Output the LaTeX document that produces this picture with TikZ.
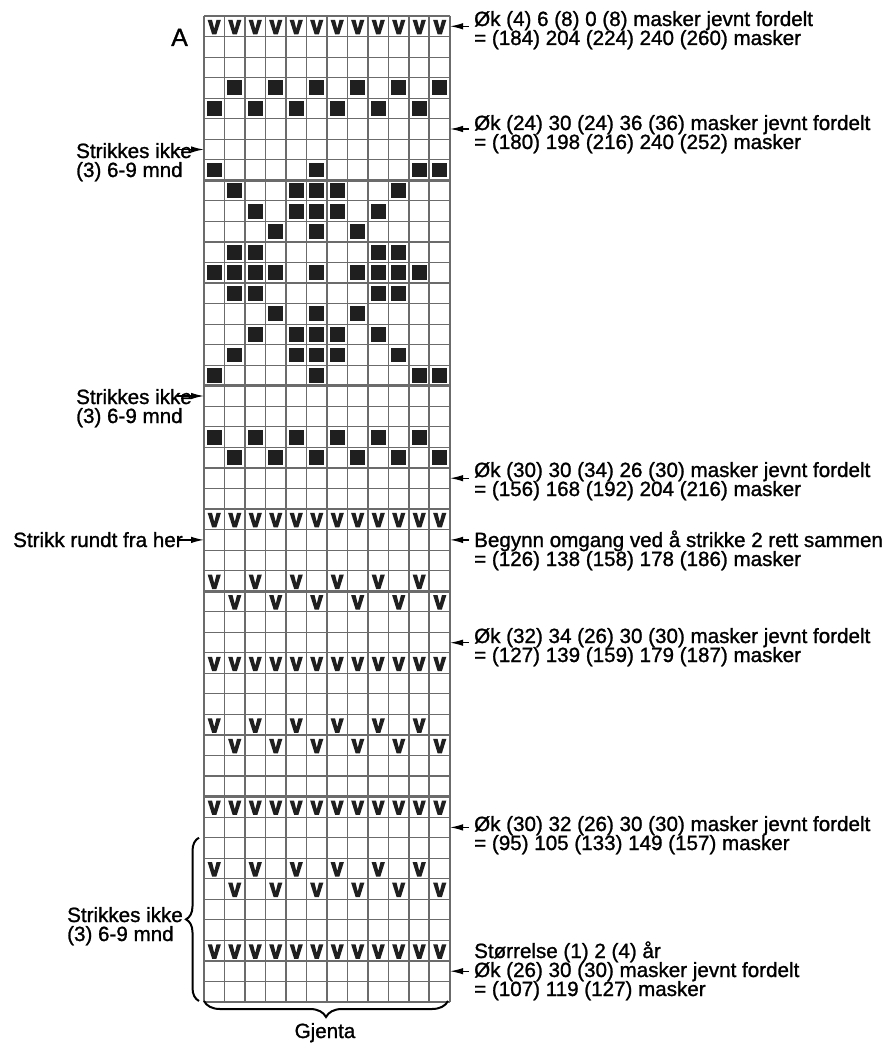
\documentclass[tikz,border=0pt]{standalone}
\usepackage{fontspec}
\setmainfont[FakeBold=1.2]{Liberation Sans}
\usetikzlibrary{arrows.meta,decorations.pathreplacing}
\newcommand\ksq[2]{%
  \pgfmathsetmacro\kcx{204+(#2-0.5)*20.5}%
  \pgfmathsetmacro\kcy{16+(#1-0.5)*20.542}%
  \fill[sqfill] (\kcx-7.4,\kcy-7.4) rectangle (\kcx+7.4,\kcy+7.4);}
\newcommand\kvmark[2]{%
  \pgfmathsetmacro\kcx{204+(#2-0.5)*20.5}%
  \pgfmathsetmacro\kcy{16+(#1-0.5)*20.542+0.9}%
  \fill[vfill] (\kcx-6.6,\kcy-7.2) -- (\kcx-2.2,\kcy-7.2) -- (\kcx,\kcy+1.6) -- (\kcx+2.2,\kcy-7.2) -- (\kcx+6.6,\kcy-7.2) -- (\kcx+2.1,\kcy+7.2) -- (\kcx-2.1,\kcy+7.2) -- cycle;}
\begin{document}
\begin{tikzpicture}[x=1pt,y=-1pt,
  gridline/.style={draw=black!58,line width=1.15pt},
  thickline/.style={draw=black!58,line width=2.8pt},
  midline/.style={draw=black!58,line width=2pt},
  sqfill/.style={fill=black!88},
  vfill/.style={fill=black!88},
  lab/.style={font=\fontsize{20.6}{17}\selectfont,inner sep=0pt,anchor=base west},
  arr/.style={draw=black,line width=1.3pt,-{Latex[length=13pt,width=6.5pt]}},
  brc/.style={draw=black,line width=2pt,decorate,decoration={brace,amplitude=#1}}
]
\fill[white] (0,0) rectangle (892,1043);
\useasboundingbox (0,0) rectangle (892,1043);
% grid
\foreach \i in {0,...,12} \draw[gridline] ({204+\i*20.5},16) -- ({204+\i*20.5},1002);
\foreach \j in {0,...,48} \draw[gridline] (204,{16+\j*20.542}) -- (450,{16+\j*20.542});
\foreach \j in {8,18,28,38} \draw[thickline] (204,{16+\j*20.542}) -- (450,{16+\j*20.542});
\draw[thickline] (245,16) -- (245,1002);
\draw[midline] (429,16) -- (429,1002);
% squares
\foreach \r/\cs in {4/{2,4,6,8,10,12},5/{1,3,5,7,9,11},8/{1,6,11,12},9/{2,5,6,7,10},10/{3,5,6,7,9},11/{4,6,8},12/{2,3,9,10},13/{1,2,3,4,6,8,9,10,11},14/{2,3,9,10},15/{4,6,8},16/{3,5,6,7,9},17/{2,5,6,7,10},18/{1,6,11,12},21/{1,3,5,7,9,11},22/{2,4,6,8,10,12}}
  {\foreach \c in \cs {\ksq{\r}{\c}}}
% V marks
\foreach \r in {1,25,32,39,46} {\foreach \c in {1,...,12} {\kvmark{\r}{\c}}}
\foreach \r in {28,35,42} {\foreach \c in {1,3,...,11} {\kvmark{\r}{\c}}}
\foreach \r in {29,36,43} {\foreach \c in {2,4,...,12} {\kvmark{\r}{\c}}}
% title
\node[lab,font=\fontsize{25}{25}\selectfont] (A) at (171,46) {A};
% right labels
\node[lab] (R1a) at (474,26) {Øk (4) 6 (8) 0 (8) masker jevnt fordelt};
\node[lab] (R1b) at (474,45) {= (184) 204 (224) 240 (260) masker};
\node[lab] (R2a) at (474,130) {Øk (24) 30 (24) 36 (36) masker jevnt fordelt};
\node[lab] (R2b) at (474,149) {= (180) 198 (216) 240 (252) masker};
\node[lab] (R3a) at (474,477) {Øk (30) 30 (34) 26 (30) masker jevnt fordelt};
\node[lab] (R3b) at (474,496) {= (156) 168 (192) 204 (216) masker};
\node[lab] (R4a) at (474,547) {Begynn omgang ved å strikke 2 rett sammen};
\node[lab] (R4b) at (474,566) {= (126) 138 (158) 178 (186) masker};
\node[lab] (R5a) at (474,643) {Øk (32) 34 (26) 30 (30) masker jevnt fordelt};
\node[lab] (R5b) at (474,662) {= (127) 139 (159) 179 (187) masker};
\node[lab] (R6a) at (474,831) {Øk (30) 32 (26) 30 (30) masker jevnt fordelt};
\node[lab] (R6b) at (474,850) {= (95) 105 (133) 149 (157) masker};
\node[lab] (R7a) at (474,958) {Størrelse (1) 2 (4) år};
\node[lab] (R7b) at (474,977) {Øk (26) 30 (30) masker jevnt fordelt};
\node[lab] (R7c) at (474,996) {= (107) 119 (127) masker};
% right arrows
\foreach \n/\y in {1/26.3,2/129,3/478.2,4/539.9,5/642.7,6/827.4,7/971.2} {
  \coordinate (rt\n) at (469,\y);
  \coordinate (rh\n) at (450,\y);
  \draw[arr] (rt\n) -- (rh\n);
}
% left labels
\node[lab] (L1a) at (76,158) {Strikkes ikke};
\node[lab] (L1b) at (76,177) {(3) 6-9 mnd};
\node[lab] (L2a) at (76,404) {Strikkes ikke};
\node[lab] (L2b) at (76,423) {(3) 6-9 mnd};
\node[lab] (L3) at (13,547) {Strikk rundt fra her};
\node[lab] (L4a) at (67,922) {Strikkes ikke};
\node[lab] (L4b) at (67,941) {(3) 6-9 mnd};
\foreach \n/\y in {1/149.5,2/396,3/539.9} {
  \coordinate (lt\n) at (177,\y);
  \coordinate (lh\n) at (204,\y);
  \draw[arr] (lt\n) -- (lh\n);
}
% braces
\coordinate (bl1) at (199,1001);
\coordinate (bl2) at (199,837.7);
\draw[brc=13pt] (bl1) -- (bl2);
\coordinate (bb1) at (448,1001);
\coordinate (bb2) at (204,1001);
\draw[brc=16pt] (bb1) -- (bb2);
\node[lab,anchor=base] (G) at (325,1038) {Gjenta};
\end{tikzpicture}
\end{document}
